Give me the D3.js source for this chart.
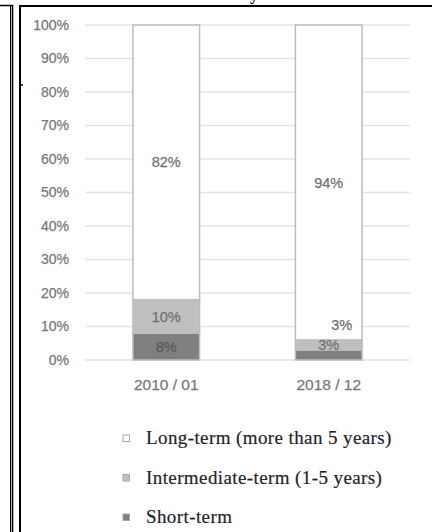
<!DOCTYPE html>
<html><head><meta charset="utf-8">
<script src="https://cdn.jsdelivr.net/npm/d3@7"></script>
<style>body{margin:0;background:#fff}svg{display:block}</style>
</head><body>
<script>
const categories = ["2010 / 01", "2018 / 12"];
const seriesNames = ["Short-term", "Intermediate-term (1-5 years)", "Long-term (more than 5 years)"];
const shortTerm = [8, 3];
const intermediateTerm = [10, 3];
const longTerm = [82, 94];
const yTickValues = [0, 10, 20, 30, 40, 50, 60, 70, 80, 90, 100];
const legendOrder = ["Long-term (more than 5 years)", "Intermediate-term (1-5 years)", "Short-term"];

const W = 432, H = 532;
const fills = {"Short-term": "#808080", "Intermediate-term (1-5 years)": "#bfbfbf", "Long-term (more than 5 years)": "#ffffff"};
const svg = d3.select("body").append("svg").attr("width", W).attr("height", H);
svg.append("rect").attr("width", W).attr("height", H).attr("fill", "#fff");

// frame lines (neighbouring panel + this panel)
const frame = svg.append("g").attr("fill", "none").attr("stroke", "#000");
frame.append("path").attr("d", "M0,5.5H12.5V532").attr("stroke-width", 1.6);
frame.append("path").attr("d", "M10.5,5V532").attr("stroke-width", 1);
frame.append("path").attr("d", "M20,532V6H432").attr("stroke-width", 2);
frame.append("path").attr("d", "M21,85H23").attr("stroke-width", 1.5);
svg.append("text").attr("x", 254).attr("y", 0).attr("font-family", "Liberation Serif").attr("font-weight", "bold")
  .attr("font-size", 16).attr("text-anchor", "middle").attr("fill", "#000").text("y");

const x = d3.scaleBand().domain(categories).range([85, 410]).padding(0);
const barW = x.bandwidth() * 0.41;
const y = d3.scaleLinear().domain([0, 100]).range([360, 25]);

// gridlines
svg.append("g").selectAll("line").data(yTickValues).join("line")
  .attr("x1", 85).attr("x2", 410).attr("y1", d => y(d)).attr("y2", d => y(d))
  .attr("stroke", "#e3e3e3").attr("stroke-width", 1.4);

// y axis labels
const yAxis = d3.axisLeft(y).tickValues(yTickValues).tickFormat(d => d + "%").tickSize(0).tickPadding(0);
const ya = svg.append("g").attr("transform", "translate(69,0)").call(yAxis);
ya.select(".domain").remove();
ya.selectAll("text").attr("font-family", "Liberation Sans").attr("font-size", 14).attr("fill", "#777")
  .attr("stroke", "#777").attr("stroke-width", 0.25);

// x axis labels
const xAxis = d3.axisBottom(x).tickSize(0).tickPadding(0);
const xa = svg.append("g").attr("transform", "translate(0,379)").call(xAxis);
xa.select(".domain").remove();
xa.selectAll("text").attr("font-family", "Liberation Sans").attr("font-size", 15.5).attr("fill", "#777")
  .attr("stroke", "#777").attr("stroke-width", 0.25);

// stacked data
const table = categories.map((c, i) => ({cat: c, "Short-term": shortTerm[i],
  "Intermediate-term (1-5 years)": intermediateTerm[i], "Long-term (more than 5 years)": longTerm[i]}));
const stack = d3.stack().keys(seriesNames)(table);

const gBars = svg.append("g");
stack.forEach(layer => {
  gBars.append("g").selectAll("rect").data(layer).join("rect")
    .attr("x", d => x(d.data.cat) + x.bandwidth() / 2 - barW / 2)
    .attr("width", barW)
    .attr("y", d => y(d[1]))
    .attr("height", d => y(d[0]) - y(d[1]))
    .attr("fill", fills[layer.key])
    .attr("stroke", "#bdbdbd").attr("stroke-width", 1.5);
});

// data labels
const gLab = svg.append("g").attr("font-family", "Liberation Sans").attr("font-size", 14.5)
  .attr("text-anchor", "middle");
stack.forEach(layer => {
  layer.forEach((d, j) => {
    const v = d[1] - d[0];
    const cx = x(d.data.cat) + x.bandwidth() / 2;
    const h = y(d[0]) - y(d[1]);
    let ly = (y(d[0]) + y(d[1])) / 2;
    let lx = cx;
    const small = layer.key === "Short-term" && h < 14;
    if (small) {
      const top = stack[1][j][1];
      ly = y(top) - 15; lx = cx + 13;
    }
    const col = (layer.key === "Short-term" && !small) ? "#585858" : "#717171";
    gLab.append("text").attr("x", lx).attr("y", ly).attr("dy", "0.35em")
      .attr("fill", col).attr("stroke", col).attr("stroke-width", 0.25)
      .text(v + "%");
  });
});

// legend
const lg = svg.append("g");
legendOrder.forEach((name, i) => {
  const cy = 438 + i * 39.5;
  lg.append("rect").attr("x", 123).attr("y", cy - 3).attr("width", 6.5).attr("height", 6.5)
    .attr("fill", fills[name]).attr("stroke", "#a6a6a6").attr("stroke-width", 1);
  lg.append("text").attr("x", 146).attr("y", cy).attr("dy", "0.32em")
    .attr("font-family", "Liberation Serif").attr("font-size", 19).attr("letter-spacing", 0.4)
    .attr("fill", "#1f1f2c").attr("stroke", "#1f1f2c").attr("stroke-width", 0.2).text(name);
});
</script>
</body></html>
